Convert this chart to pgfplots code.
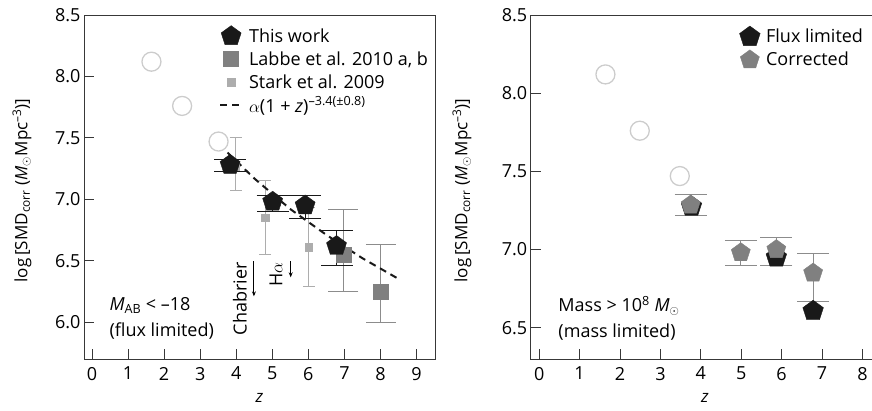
\documentclass[border=0pt]{standalone}
\usepackage{pgfplots}
\pgfplotsset{compat=1.18}
\usepackage{fontspec}
\setmainfont{Open Sans}
\usetikzlibrary{arrows.meta}
\definecolor{circgray}{gray}{0.80}
\definecolor{darkg}{gray}{0.50}
\definecolor{lightg}{gray}{0.68}
\definecolor{errg}{gray}{0.55}
\definecolor{pentblack}{gray}{0.10}
\definecolor{axgray}{gray}{0.22}
\newcommand{\fs}{\fontsize{18}{21}\selectfont}
\tikzset{emark/.style={rotate=90, line width=1pt, mark size=#1}}
\pgfplotsset{
  myaxis/.style={
    scale only axis,
    axis line style={axgray, line width=0.9pt},
    tick align=inside, tick pos=left, major tick length=10pt,
    tick style={axgray, line width=0.8pt},
    /pgf/number format/assume math mode=true,
    ticklabel style={font=\fs},
    yticklabel style={/pgf/number format/.cd, fixed, fixed zerofill, precision=1},
    xticklabel style={yshift=-4.5pt},
    label style={font=\fontsize{17}{20}\selectfont},
    clip=false,
    legend cell align=left,
    legend style={draw=none, fill=none, inner sep=0pt, row sep=0pt, column sep=6pt,
      font=\fs, nodes={inner sep=0pt, minimum height=23pt}},
  },
  dashleg/.style={legend image code/.code={\draw[##1] (-2.5pt,0pt) -- (19.5pt,0pt);}},
}
\begin{document}
\begin{tikzpicture}
\path[use as bounding box] (0pt,0pt) rectangle (872pt,410pt);
% ---------------- left panel
\begin{axis}[myaxis,
  at={(84pt,51pt)}, anchor=south west,
  width=351pt, height=344pt,
  xmin=-0.22, xmax=9.51, ymin=5.70, ymax=8.5,
  xtick={0,1,2,3,4,5,6,7,8,9},
  ytick={6,6.5,7,7.5,8,8.5},
  xlabel={\textit{z}},
  xlabel style={at={(axis description cs:0.5,-0.113)}, anchor=center},
  ylabel={log\,[SMD\textsubscript{corr} (\textit{M}$_{\odot}$Mpc\textsuperscript{–3})]},
  ylabel style={at={(axis description cs:-0.177,0.49)}, anchor=center},
  legend style={at={(axis cs:3.52,8.423)}, anchor=north west},
]
% open circles
\addplot[forget plot, only marks, mark=o, mark size=9.5pt, circgray, mark options={line width=1.3pt}]
  coordinates {(1.65,8.12) (2.50,7.76) (3.51,7.47)};
% Labbe
\addplot[forget plot, only marks, mark=square*, mark size=7.5pt, darkg,
  error bars/.cd, y dir=both, y explicit,
  error bar style={errg, line width=1pt},
  error mark options={errg, emark=15pt}]
  coordinates {(6.97,6.55) += (0,0.37) -= (0,0.30)
               (8.01,6.25) += (0,0.38) -= (0,0.25)};
% Stark
\addplot[forget plot, only marks, mark=square*, mark size=3.75pt, lightg,
  error bars/.cd, y dir=both, y explicit,
  error bar style={lightg, line width=1pt},
  error mark options={lightg, emark=6pt}]
  coordinates {(3.98,7.27) += (0,0.23) -= (0,0.20)
               (4.80,6.85) += (0,0.30) -= (0,0.30)
               (6.01,6.61) += (0,0.32) -= (0,0.32)};
% This work
\addplot[only marks, mark=pentagon*, mark size=10.5pt, pentblack,
  error bars/.cd, y dir=both, y explicit,
  error bar style={pentblack, line width=1pt},
  error mark options={pentblack, emark=16pt}]
  coordinates {(3.83,7.28) += (0,0.04) -= (0,0.05)
               (5.01,6.98) += (0,0.05) -= (0,0.08)
               (5.91,6.95) += (0,0.08) -= (0,0.11)
               (6.78,6.62) += (0,0.13) -= (0,0.16)};
\addlegendentry{This work}
\addlegendimage{only marks, mark=square*, mark size=7.5pt, darkg}
\addlegendentry{Labbe et al. 2010 a, b}
\addlegendimage{only marks, mark=square*, mark size=3.75pt, lightg}
\addlegendentry{Stark et al. 2009}
% fit line
\addplot[pentblack, line width=2pt, dash pattern=on 7pt off 5pt, mark=none, dashleg]
  coordinates {(3.76,7.38) (4.5,7.17) (5.5,6.92) (6.5,6.71) (7.5,6.52) (8.51,6.35)};
\addlegendentry{$\alpha$(1 + \textit{z})\textsuperscript{–3.4(±0.8)}}
% annotations
\node[anchor=west, align=left, font=\fontsize{18}{26}\selectfont] at (axis cs:0.39,6.03)
  {\textit{M}\textsubscript{AB} < –18\\(flux limited)};
\node[rotate=90, font=\fs] at (axis cs:4.10,6.19) {Chabrier};
\node[rotate=90, font=\fs] at (axis cs:5.10,6.39) {H$\alpha$};
\draw[-{Stealth[length=5pt,width=4pt]}, line width=1pt] (axis cs:4.49,6.495) -- (axis cs:4.49,6.21);
\draw[-{Stealth[length=5pt,width=4pt]}, line width=1pt] (axis cs:5.51,6.495) -- (axis cs:5.51,6.365);
\end{axis}
% ---------------- right panel
\begin{axis}[myaxis,
  at={(530.7pt,51pt)}, anchor=south west,
  width=351.9pt, height=344pt,
  xmin=-0.21, xmax=8.5, ymin=6.30, ymax=8.5,
  xtick={0,1,2,3,4,5,6,7,8},
  ytick={6.5,7,7.5,8,8.5},
  xlabel={\textit{z}},
  xlabel style={at={(axis description cs:0.495,-0.113)}, anchor=center},
  ylabel={log\,[SMD\textsubscript{corr} (\textit{M}$_{\odot}$Mpc\textsuperscript{–3})]},
  ylabel style={at={(axis description cs:-0.195,0.49)}, anchor=center},
  legend style={at={(axis cs:4.955,8.435)}, anchor=north west},
]
\addplot[forget plot, only marks, mark=o, mark size=9.5pt, circgray, mark options={line width=1.3pt}]
  coordinates {(1.64,8.12) (2.49,7.76) (3.48,7.47)};
\addplot[only marks, mark=pentagon*, mark size=10.8pt, pentblack]
  coordinates {(3.77,7.275) (5.87,6.95) (6.78,6.607)};
\addlegendentry{Flux limited}
\addplot[only marks, mark=pentagon*, mark size=10pt, darkg,
  error bars/.cd, y dir=both, y explicit,
  error bar style={errg, line width=1pt},
  error mark options={errg, emark=16pt}]
  coordinates {(3.75,7.285) += (0,0.065) -= (0,0.065)
               (4.99,6.98) += (0,0.08) -= (0,0.085)
               (5.87,7.00) += (0,0.08) -= (0,0.105)
               (6.78,6.85) += (0,0.126) -= (0,0.18)};
\addlegendentry{Corrected}
\node[anchor=west, align=left, font=\fontsize{18}{26}\selectfont] at (axis cs:0.39,6.56)
  {Mass > 10\textsuperscript{8} \textit{M}$_{\odot}$\\(mass limited)};
\end{axis}
\end{tikzpicture}
\end{document}
